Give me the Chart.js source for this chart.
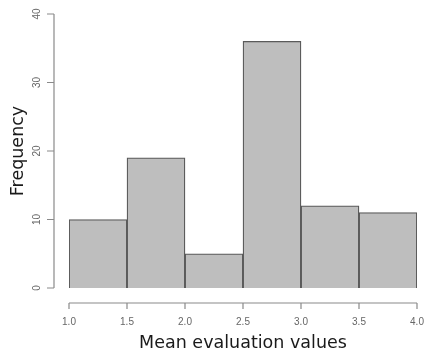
<!DOCTYPE html>
<html>
<head>
<meta charset="utf-8">
<script src="https://cdn.jsdelivr.net/npm/chart.js@4"></script>
<style>
  html, body { margin: 0; padding: 0; background: #fff; }
  #wrap { width: 424px; height: 353px; }
</style>
</head>
<body>
<div id="wrap"><canvas id="c" width="424" height="353"></canvas></div>
<script>
const binStarts = [1.0, 1.5, 2.0, 2.5, 3.0, 3.5];
const binWidth = 0.5;
const counts = [10, 19, 5, 36, 12, 11];
const xTicks = ["1.0", "1.5", "2.0", "2.5", "3.0", "3.5", "4.0"];
const yTicks = [0, 10, 20, 30, 40];
const xTitle = "Mean evaluation values";
const yTitle = "Frequency";

const points = binStarts.map((s, i) => ({ x: s + binWidth / 2, y: counts[i] }));

// R style detached axes, drawn from the chart's own scales
const rAxes = {
  id: "rAxes",
  afterDraw(chart) {
    const { ctx, chartArea, scales } = chart;
    const xs = scales.x, ys = scales.y;
    ctx.save();
    ctx.strokeStyle = "#8a8a8a";
    ctx.lineWidth = 1.2;

    // y axis
    const ax = chartArea.left - 15;
    ctx.beginPath();
    ctx.moveTo(ax, ys.getPixelForValue(yTicks[0]));
    ctx.lineTo(ax, ys.getPixelForValue(yTicks[yTicks.length - 1]));
    yTicks.forEach(v => {
      const py = ys.getPixelForValue(v);
      ctx.moveTo(ax, py);
      ctx.lineTo(ax - 7, py);
    });
    ctx.stroke();

    ctx.fillStyle = "#666";
    ctx.font = "10px 'Liberation Sans', Arial, sans-serif";
    ctx.textAlign = "center";
    ctx.textBaseline = "middle";
    yTicks.forEach(v => {
      const py = ys.getPixelForValue(v);
      ctx.save();
      ctx.translate(ax - 17, py);
      ctx.rotate(-Math.PI / 2);
      ctx.fillText(String(v), 0, 0);
      ctx.restore();
    });

    // x axis
    const ay = ys.getPixelForValue(0) + 15;
    const xv = xTicks.map(Number);
    ctx.beginPath();
    ctx.moveTo(xs.getPixelForValue(xv[0]), ay);
    ctx.lineTo(xs.getPixelForValue(xv[xv.length - 1]), ay);
    xv.forEach(v => {
      const px = xs.getPixelForValue(v);
      ctx.moveTo(px, ay);
      ctx.lineTo(px, ay + 6);
    });
    ctx.stroke();
    xTicks.forEach((t, i) => {
      ctx.fillText(t, xs.getPixelForValue(xv[i]), ay + 19);
    });

    // titles
    ctx.fillStyle = "#1a1a1a";
    ctx.font = "17.5px 'DejaVu Sans', Verdana, sans-serif";
    ctx.fillText(xTitle, (xs.left + xs.right) / 2, ay + 40);
    ctx.save();
    ctx.translate(18, (ys.getPixelForValue(0) + ys.getPixelForValue(40)) / 2);
    ctx.rotate(-Math.PI / 2);
    ctx.fillText(yTitle, 0, 0);
    ctx.restore();
    ctx.restore();
  }
};

new Chart(document.getElementById("c"), {
  type: "bar",
  data: {
    datasets: [{
      data: points,
      backgroundColor: "#bebebe",
      borderColor: "#5a5a5a",
      borderWidth: 1.3,
      barPercentage: 1,
      categoryPercentage: 1,
      grouped: false
    }]
  },
  options: {
    responsive: false,
    animation: false,
    devicePixelRatio: 1,
    layout: { padding: { left: 69, right: 7, top: 14, bottom: 65 } },
    plugins: { legend: { display: false }, tooltip: { enabled: false } },
    scales: {
      x: { type: "linear", min: 1, max: 4, offset: false, display: false },
      y: { min: 0, max: 40, display: false }
    }
  },
  plugins: [rAxes]
});
</script>
</body>
</html>
